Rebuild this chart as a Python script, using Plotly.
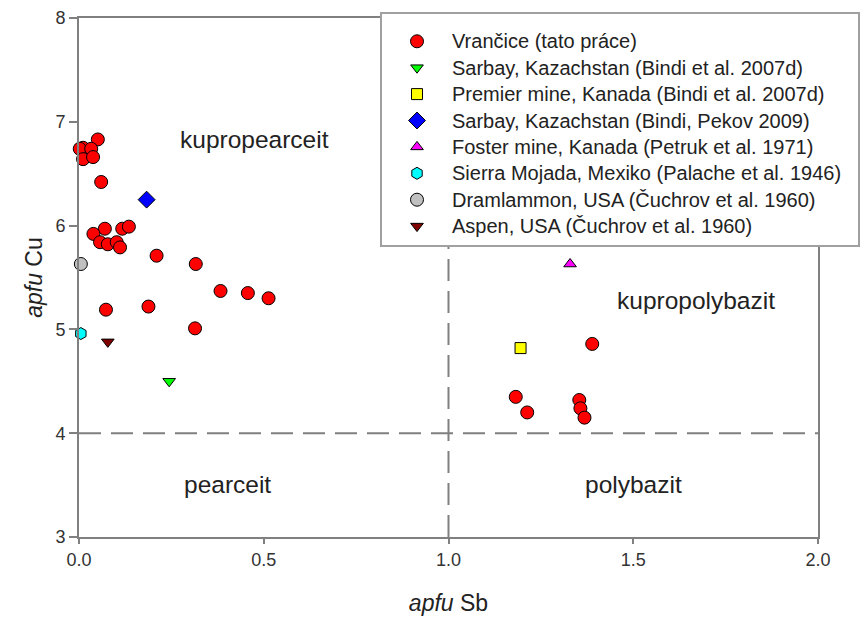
import plotly.graph_objects as go

# Vrančice (this work)
vr_sb = [0.051, 0.011, 0.002, 0.033, 0.011, 0.038, 0.060,
         0.070, 0.039, 0.057, 0.078, 0.102, 0.111, 0.117, 0.135,
         0.210, 0.316, 0.383, 0.457, 0.513, 0.073, 0.188, 0.314,
         1.389, 1.182, 1.213, 1.354, 1.357, 1.368]
vr_cu = [6.83, 6.75, 6.74, 6.74, 6.64, 6.66, 6.42,
         5.97, 5.92, 5.84, 5.82, 5.84, 5.79, 5.97, 5.99,
         5.71, 5.63, 5.37, 5.35, 5.30, 5.19, 5.22, 5.01,
         4.86, 4.35, 4.20, 4.32, 4.24, 4.15]

names = ["Vrančice (tato práce)",
         "Sarbay, Kazachstan (Bindi et al. 2007d)",
         "Premier mine, Kanada (Bindi et al. 2007d)",
         "Sarbay, Kazachstan (Bindi, Pekov 2009)",
         "Foster mine, Kanada (Petruk et al. 1971)",
         "Sierra Mojada, Mexiko (Palache et al. 1946)",
         "Dramlammon, USA (Čuchrov et al. 1960)",
         "Aspen, USA (Čuchrov et al. 1960)"]

other_sb = [[0.244], [1.195], [0.183], [1.329], [0.005], [0.005], [0.078]]
other_cu = [[4.50], [4.82], [6.25], [5.63], [4.96], [5.63], [4.88]]

region_labels = ["kupropearceit", "kupropolybazit", "pearceit", "polybazit"]
region_x = [0.474, 1.67, 0.403, 1.50]
region_y = [6.83, 5.28, 3.51, 3.51]

symbols = ["circle", "triangle-down", "square", "diamond", "triangle-up",
           "hexagon", "circle", "triangle-down"]
colors = ["#FF0000", "#00FF00", "#FFFF00", "#0000FF", "#FF00FF",
          "#00FFFF", "#C0C0C0", "#800000"]
sizes = [13, 11, 11, 13, 11, 12, 13, 11]

FONT = "Liberation Sans, Arial, sans-serif"


def leg_label(n):
    # trailing spaces widen the legend box like the reference
    return "<span style='font-size:20px'>" + n + "&nbsp;&nbsp;</span>"


fig = go.Figure()
fig.add_trace(go.Scatter(
    x=vr_sb, y=vr_cu, mode="markers", name=leg_label(names[0]), cliponaxis=False,
    marker=dict(symbol=symbols[0], color=colors[0], size=sizes[0],
                line=dict(color="black", width=1))))
for i in range(7):
    fig.add_trace(go.Scatter(
        x=other_sb[i], y=other_cu[i], mode="markers", name=leg_label(names[i + 1]),
        cliponaxis=False,
        marker=dict(symbol=symbols[i + 1], color=colors[i + 1],
                    size=sizes[i + 1], line=dict(color="black", width=1))))

# boundary lines
fig.add_shape(type="line", x0=0, x1=2, y0=4, y1=4, xref="x", yref="y",
              line=dict(color="#808080", width=2, dash="22px,10px"), layer="below")
fig.add_shape(type="line", x0=1, x1=1, y0=3, y1=8, xref="x", yref="y",
              line=dict(color="#808080", width=2, dash="22px,10px"), layer="below")

for t, x, y in zip(region_labels, region_x, region_y):
    fig.add_annotation(x=x, y=y, text=t, showarrow=False, xref="x", yref="y",
                       font=dict(family=FONT, size=24.5, color="#222222"))

axis_common = dict(showgrid=False, zeroline=False, showline=True,
                   linecolor="#808080", linewidth=2, mirror=True,
                   ticks="outside", tickcolor="#808080", tickwidth=1.5,
                   tickfont=dict(family=FONT, size=18, color="#333333"))

fig.update_xaxes(range=[0, 2], tickvals=[0, 0.5, 1, 1.5, 2],
                 ticktext=["0.0", "0.5", "1.0", "1.5", "2.0"], ticklen=5,
                 title=dict(text="<i>apfu</i> Sb", standoff=26,
                            font=dict(family=FONT, size=23, color="#222222")),
                 **axis_common)
fig.update_yaxes(range=[3, 8], tickvals=[3, 4, 5, 6, 7, 8], ticklen=8,
                 title=dict(text="<i>apfu</i> Cu", standoff=6,
                            font=dict(family=FONT, size=23, color="#222222")),
                 **axis_common)

# page body has an 8px margin, so figure coordinates are page coordinates - 8
W, H = 860, 614
plot_l, plot_r, plot_t, plot_b = 71, 810, 10, 529
fig.update_layout(
    width=W, height=H,
    margin=dict(l=plot_l, r=W - plot_r, t=plot_t, b=H - plot_b,
                autoexpand=False),
    paper_bgcolor="white", plot_bgcolor="white",
    font=dict(family=FONT),
    legend=dict(x=(372 - plot_l) / (plot_r - plot_l),
                y=(plot_b - 4) / (plot_b - plot_t),
                xanchor="left", yanchor="top",
                bgcolor="white", bordercolor="#A0A0A0", borderwidth=2,
                font=dict(family=FONT, size=18, color="#222222"),
                title=dict(text="&nbsp;", font=dict(size=7)),
                itemwidth=60, tracegroupgap=0),
    showlegend=True,
)

fig.write_html("out.html")
